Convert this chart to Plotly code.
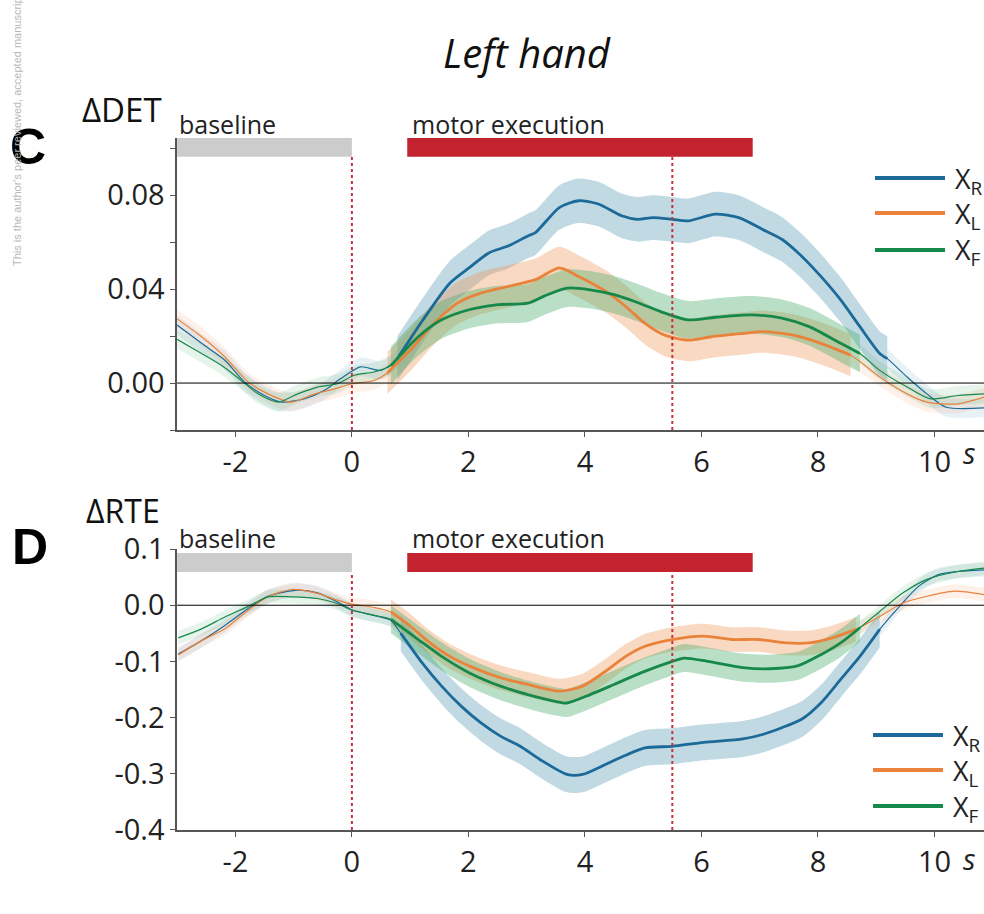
import numpy as np
import plotly.graph_objects as go

FONT = "Open Sans"

# ---------------- data: top panel (ΔDET) ----------------
T_DET_R = [-3.0, -2.58, -2.18, -1.84, -1.5, -1.21, -0.81, -0.47, -0.19, 0.15, 0.5, 0.78, 1.21, 1.68,
           2.01, 2.35, 2.68, 3.02, 3.15, 3.56, 3.89, 4.23, 4.63, 4.9, 5.17, 5.5, 5.77, 6.24, 6.64,
           7.05, 7.38, 7.72, 8.05, 8.39, 8.72, 9.06, 9.19, 9.53, 9.87, 10.2, 10.85]
DET_R = [0.0247, 0.0169, 0.0097, 0.0004, -0.0053, -0.0081, -0.0067, -0.0031, 0.0019, 0.0069, 0.0054,
         0.0104, 0.0265, 0.0425, 0.0490, 0.0554, 0.0583, 0.0626, 0.0640, 0.0747, 0.0776, 0.0762,
         0.0712, 0.0697, 0.0704, 0.0697, 0.0690, 0.0719, 0.0704, 0.0654, 0.0612, 0.0540, 0.0454,
         0.0354, 0.0240, 0.0126, 0.0104, 0.0026, -0.0046, -0.0103, -0.0106]

T_DET_L = [-3.0, -2.58, -2.18, -1.78, -1.44, -1.04, -0.64, -0.36, 0.0, 0.38, 0.61, 1.0, 1.41, 1.81,
           2.21, 2.68, 3.15, 3.56, 3.89, 4.36, 4.7, 5.03, 5.37, 5.77, 6.17, 6.71, 7.05, 7.58, 8.05,
           8.56, 9.06, 9.53, 9.87, 10.4, 10.85]
DET_L = [0.0273, 0.0197, 0.0111, 0.0004, -0.0046, -0.0081, -0.0046, -0.0029, -0.0003, 0.0011, 0.0043,
         0.0140, 0.0254, 0.0340, 0.0383, 0.0411, 0.0440, 0.0490, 0.0454, 0.0390, 0.0326, 0.0254,
         0.0204, 0.0183, 0.0197, 0.0211, 0.0219, 0.0204, 0.0169, 0.0119, 0.0026, -0.0046, -0.0081,
         -0.0089, -0.0060]

T_DET_F = [-3.0, -2.58, -2.24, -1.9, -1.61, -1.27, -0.93, -0.59, -0.25, 0.04, 0.38, 0.67, 1.14, 1.54,
           2.01, 2.48, 3.02, 3.29, 3.69, 4.09, 4.5, 4.9, 5.3, 5.77, 6.24, 6.85, 7.38, 7.85, 8.39,
           8.72, 9.06, 9.53, 9.93, 10.4, 10.85]
DET_F = [0.0186, 0.0126, 0.0076, 0.0011, -0.0046, -0.0081, -0.0046, -0.0017, -0.0003, 0.0033, 0.0047,
         0.0075, 0.0197, 0.0269, 0.0312, 0.0333, 0.0340, 0.0369, 0.0404, 0.0397, 0.0376, 0.0343,
         0.0304, 0.0269, 0.0280, 0.0290, 0.0276, 0.0240, 0.0169, 0.0126, 0.0054, -0.0017, -0.0067,
         -0.0053, -0.0046]

DET_SIG = [(0.78, 9.19), (0.61, 8.56), (0.67, 8.72)]       # thick (significant) windows R, L, F
DET_HW_THIN = [0.004, 0.004, 0.004]
DET_HW_THICK = [0.0095, 0.009, 0.008]

# ---------------- data: bottom panel (ΔRTE) ----------------
T_RTE_R = [-2.98, -2.58, -2.18, -1.78, -1.44, -0.93, -0.59, -0.25, 0.0, 0.38, 0.67, 0.84, 1.21, 1.54,
           1.88, 2.21, 2.55, 2.89, 3.22, 3.69, 3.96, 4.36, 4.7, 5.03, 5.5, 6.04, 6.71, 7.05, 7.38,
           7.72, 8.05, 8.39, 8.72, 9.06, 9.4, 9.73, 10.07, 10.4, 10.85]
RTE_R = [-0.087, -0.063, -0.036, -0.006, 0.016, 0.027, 0.022, 0.006, -0.008, -0.018, -0.027, -0.050,
         -0.103, -0.144, -0.180, -0.209, -0.233, -0.251, -0.274, -0.301, -0.301, -0.283, -0.267,
         -0.254, -0.251, -0.244, -0.238, -0.230, -0.218, -0.203, -0.174, -0.132, -0.091, -0.043,
         -0.002, 0.034, 0.0545, 0.060, 0.063]

T_RTE_L = [-2.98, -2.58, -2.18, -1.78, -1.44, -1.04, -0.59, -0.25, 0.0, 0.38, 0.67, 1.0, 1.34, 1.68,
           2.08, 2.55, 3.02, 3.56, 3.96, 4.36, 4.7, 5.03, 5.5, 6.04, 6.51, 6.98, 7.45, 7.85, 8.25,
           8.65, 9.06, 9.46, 9.87, 10.34, 10.85]
RTE_L = [-0.0886, -0.063, -0.042, -0.009, 0.015, 0.028, 0.021, 0.009, 0.002, -0.004, -0.012, -0.037,
         -0.067, -0.091, -0.111, -0.129, -0.141, -0.153, -0.144, -0.117, -0.091, -0.073, -0.061,
         -0.055, -0.061, -0.061, -0.067, -0.067, -0.058, -0.043, -0.020, 0.004, 0.016, 0.025, 0.019]

T_RTE_F = [-2.98, -2.58, -2.18, -1.78, -1.44, -1.04, -0.59, -0.25, 0.0, 0.38, 0.67, 1.14, 1.54, 2.01,
           2.55, 3.02, 3.49, 3.69, 4.09, 4.5, 4.97, 5.5, 5.7, 6.11, 6.71, 7.18, 7.65, 8.05, 8.39,
           8.72, 9.06, 9.46, 9.87, 10.4, 10.85]
RTE_F = [-0.058, -0.042, -0.021, -0.002, 0.015, 0.015, 0.012, 0.003, -0.009, -0.018, -0.025, -0.061,
         -0.091, -0.120, -0.144, -0.159, -0.171, -0.174, -0.159, -0.141, -0.120, -0.100, -0.094,
         -0.100, -0.111, -0.113, -0.108, -0.088, -0.067, -0.040, -0.011, 0.022, 0.046, 0.060, 0.066]

RTE_SIG = [(0.84, 9.06), (0.67, 8.65), (0.67, 8.72)]
RTE_HW_THIN = [0.012, 0.012, 0.012]
RTE_HW_THICK = [0.032, 0.022, 0.025]

SERIES_NAMES = ["R", "L", "F"]
LINE_COLORS = ["#1c6a99", "#e9823b", "#16894a"]
BAND_RGB = ["80,150,175", "240,150,90", "60,170,100"]

X_TICKS = [-2, 0, 2, 4, 6, 8, 10]
DET_TICKS = [-0.02, 0.0, 0.02, 0.04, 0.06, 0.08, 0.1]
DET_TICKTEXT = [" ", "0.00", " ", "0.04", " ", "0.08", " "]
RTE_TICKS = [-0.4, -0.3, -0.2, -0.1, 0.0, 0.1]
RTE_TICKTEXT = ["-0.4", "-0.3", "-0.2", "-0.1", "0.0", "0.1"]

BASELINE = (-3.0, 0.0)
MOTOR = (0.95, 6.88)
EVENT_LINES = [0.0, 5.5]

fig = go.Figure()


def band(fig, t, lo, hi, color, xa, ya):
    fig.add_trace(go.Scatter(x=t, y=lo, mode="lines", line=dict(width=0, shape="spline", smoothing=0.7),
                             xaxis=xa, yaxis=ya, hoverinfo="skip", showlegend=False))
    fig.add_trace(go.Scatter(x=t, y=hi, mode="lines", line=dict(width=0, shape="spline", smoothing=0.7),
                             fill="tonexty", fillcolor=color,
                             xaxis=xa, yaxis=ya, hoverinfo="skip", showlegend=False))


def add_panel(ts, vs, sigs, hw_thin, hw_thick, xa, ya):
    for i in range(3):
        t = np.array(ts[i]); v = np.array(vs[i])
        s0, s1 = sigs[i]
        for m in (t <= s0, t >= s1):
            band(fig, t[m], v[m] - hw_thin[i], v[m] + hw_thin[i],
                 f"rgba({BAND_RGB[i]},0.13)", xa, ya)
        m = (t >= s0) & (t <= s1)
        band(fig, t[m], v[m] - hw_thick[i], v[m] + hw_thick[i],
             f"rgba({BAND_RGB[i]},0.36)", xa, ya)
    for i in range(3):
        t = np.array(ts[i]); v = np.array(vs[i])
        s0, s1 = sigs[i]
        fig.add_trace(go.Scatter(x=t, y=v, mode="lines",
                                 line=dict(color=LINE_COLORS[i], width=1.2, shape="spline", smoothing=0.7),
                                 xaxis=xa, yaxis=ya, hoverinfo="skip", showlegend=False))
        m = (t >= s0) & (t <= s1)
        fig.add_trace(go.Scatter(x=t[m], y=v[m], mode="lines",
                                 line=dict(color=LINE_COLORS[i], width=2.8, shape="spline", smoothing=0.7),
                                 xaxis=xa, yaxis=ya, hoverinfo="skip", showlegend=False))


add_panel([T_DET_R, T_DET_L, T_DET_F], [DET_R, DET_L, DET_F], DET_SIG,
          DET_HW_THIN, DET_HW_THICK, "x", "y")
add_panel([T_RTE_R, T_RTE_L, T_RTE_F], [RTE_R, RTE_L, RTE_F], RTE_SIG,
          RTE_HW_THIN, RTE_HW_THICK, "x2", "y2")

AX_COL = "#555555"
tickfont = dict(family=FONT, size=29, color="#222222")
xcommon = dict(range=[-3, 10.85], domain=[0.18, 1.0], showgrid=False, zeroline=False,
               showline=True, linecolor=AX_COL, linewidth=1.5, ticks="outside", ticklen=5,
               tickcolor=AX_COL, tickwidth=1.2, tickvals=X_TICKS,
               ticktext=[str(v) for v in X_TICKS], tickfont=tickfont)
ycommon = dict(showgrid=False, zeroline=False, showline=True, linecolor=AX_COL, linewidth=1.5,
               ticks="outside", ticklen=5, tickcolor=AX_COL, tickwidth=1.2, tickfont=tickfont)

fig.update_layout(
    width=984, height=914, autosize=False,
    margin=dict(l=0, r=0, t=0, b=0, pad=0, autoexpand=False),
    paper_bgcolor="white", plot_bgcolor="white",
    font=dict(family=FONT, color="#222222"),
    showlegend=False,
    xaxis=dict(anchor="y", **xcommon),
    yaxis=dict(anchor="x", range=[-0.02, 0.1043], domain=[0.5295, 0.849],
               tickvals=DET_TICKS, ticktext=DET_TICKTEXT, **ycommon),
    xaxis2=dict(anchor="y2", **xcommon),
    yaxis2=dict(anchor="x2", range=[-0.4, 0.1], domain=[0.0919, 0.3993],
                tickvals=RTE_TICKS, ticktext=RTE_TICKTEXT, **ycommon),
)

shapes = []
panels = [("x", "y", 0.0963, 0.1043, -0.02), ("x2", "y2", 0.059, 0.093, -0.4)]
for xa, ya, b0, b1, ymin in panels:
    shapes.append(dict(type="line", xref=f"{xa} domain", x0=0, x1=1, yref=ya, y0=0, y1=0,
                       line=dict(color="black", width=1)))
    shapes.append(dict(type="rect", xref=xa, x0=BASELINE[0], x1=BASELINE[1], yref=ya, y0=b0, y1=b1,
                       fillcolor="#cccccc", line=dict(width=0)))
    shapes.append(dict(type="rect", xref=xa, x0=MOTOR[0], x1=MOTOR[1], yref=ya, y0=b0, y1=b1,
                       fillcolor="#c3232e", line=dict(width=0)))
    for ev in EVENT_LINES:
        shapes.append(dict(type="line", xref=xa, x0=ev, x1=ev, yref=ya, y0=ymin, y1=b0,
                           line=dict(color="#c8323c", width=2, dash="dot")))


def py(pix):
    """pixel row from top -> paper y"""
    return (914 - pix) / 914


def px(pix):
    return pix / 984


# legends (manual)
LEG_ROWS_TOP = [178, 213, 250]
LEG_ROWS_BOT = [735, 770, 806]
annotations = []
for rows, x0, x1 in ((LEG_ROWS_TOP, 875, 945), (LEG_ROWS_BOT, 873, 943)):
    for i, r in enumerate(rows):
        shapes.append(dict(type="line", xref="paper", yref="paper", x0=px(x0), x1=px(x1),
                           y0=py(r), y1=py(r), line=dict(color=LINE_COLORS[i], width=4)))
        annotations.append(dict(xref="paper", yref="paper", x=px(x1 + 8), y=py(r + 2),
                                xanchor="left", yanchor="middle", showarrow=False,
                                text=f"X<sub>{SERIES_NAMES[i]}</sub>",
                                font=dict(family=FONT, size=27, color="#222222")))

fig.update_layout(shapes=shapes)

LABEL_FONT = dict(family=FONT, size=25, color="#222222")
PANEL_FONT = dict(family="Liberation Sans Narrow, Liberation Sans", size=50, color="#000000")


def ann(x, y, text, font, xref="paper", xanchor="center", **kw):
    d = dict(xref=xref, yref="paper", x=x, y=y, text=text, font=font, showarrow=False,
             xanchor=xanchor, yanchor="middle")
    d.update(kw)
    return d


annotations += [
    ann(px(527), py(52), "<i>Left hand</i>", dict(family=FONT, size=40, color="#111111")),
    ann(px(80), py(110), "ΔDET", dict(family=FONT, size=33, color="#111111"), xanchor="left"),
    ann(px(84), py(510), "ΔRTE", dict(family=FONT, size=32, color="#111111"), xanchor="left"),
    ann(px(28), py(147), "<b>C</b>", PANEL_FONT),
    ann(px(30), py(547), "<b>D</b>", PANEL_FONT),
    ann(-3, py(124), "baseline", LABEL_FONT, xref="x", xanchor="left"),
    ann(1.0, py(124), "motor execution", LABEL_FONT, xref="x", xanchor="left"),
    ann(-3, py(538), "baseline", LABEL_FONT, xref="x2", xanchor="left"),
    ann(1.0, py(538), "motor execution", LABEL_FONT, xref="x2", xanchor="left"),
    ann(10.6, py(453), "<i>s</i>", dict(family=FONT, size=29, color="#222222"), xref="x"),
    ann(10.6, py(858), "<i>s</i>", dict(family=FONT, size=29, color="#222222"), xref="x2"),
    dict(xref="paper", yref="paper", x=px(17), y=py(268), xanchor="center", yanchor="bottom",
         textangle=-90, showarrow=False,
         text="This is the author's peer reviewed, accepted manuscript. However, the online version of record will be different",
         font=dict(family="Liberation Sans", size=11, color="#b8b8b8")),
]
fig.update_layout(annotations=annotations)

fig.write_html("out.html", config={"displayModeBar": False},
               post_script="document.body.style.margin='0';")
